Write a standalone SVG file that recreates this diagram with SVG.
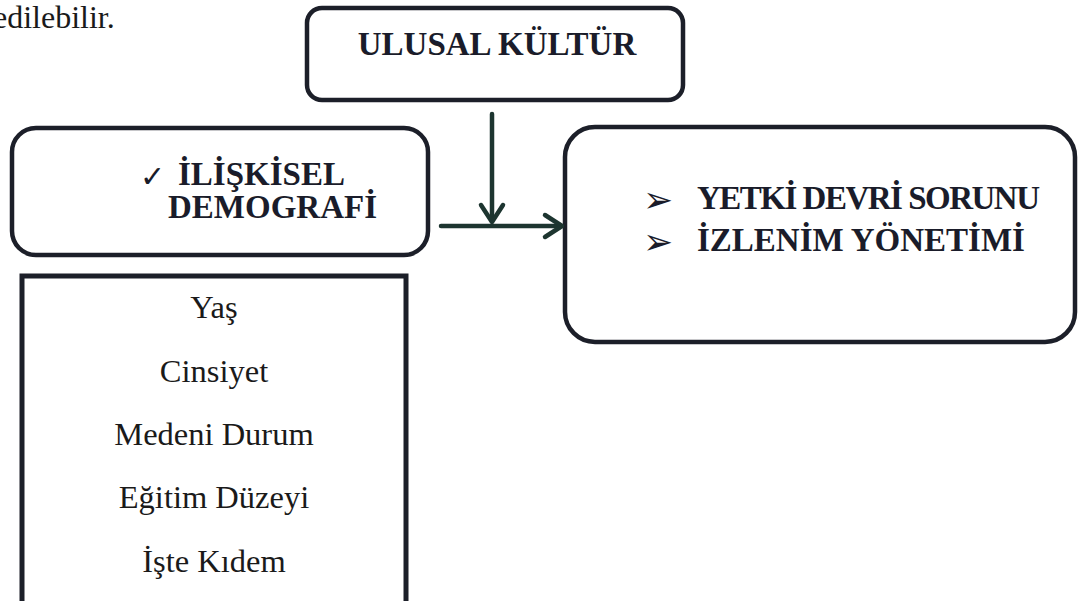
<svg xmlns="http://www.w3.org/2000/svg" width="1080" height="601" viewBox="0 0 1080 601">
<style>
.box{fill:#fff;stroke:#1c1f29;stroke-width:4.5}
.b{font-family:"Liberation Serif",serif;font-weight:bold;font-size:33px;fill:#1a1c2a}
.r{font-family:"Liberation Serif",serif;font-size:32.5px;fill:#1a1a1a;text-anchor:middle}
.sym{font-family:"DejaVu Sans",sans-serif;fill:#1a1c2a}
.con{fill:none;stroke:#1d3530;stroke-width:4.5;stroke-linecap:round;stroke-linejoin:round}
</style>
<rect width="1080" height="601" fill="#fff"/>
<text x="-7" y="28" font-family="Liberation Serif, serif" font-size="32" fill="#1a1a1a">edilebilir.</text>
<g id="ulusal">
<rect class="box" x="307" y="8" width="376" height="92" rx="15"/>
<text class="b" x="497" y="55" text-anchor="middle">ULUSAL KÜLTÜR</text>
</g>
<g id="iliskisel">
<rect class="box" x="12" y="128" width="416" height="127" rx="24"/>
<text class="sym" font-size="30" x="140" y="187">✓</text>
<text class="b" x="178" y="185">İLİŞKİSEL</text>
<text class="b" x="168" y="218">DEMOGRAFİ</text>
</g>
<g id="sonuc">
<rect class="box" x="565" y="127" width="510" height="215" rx="30"/>
<text class="sym" font-size="36" x="643" y="212">➢</text>
<text class="b" x="697" y="209" textLength="343">YETKİ DEVRİ SORUNU</text>
<text class="sym" font-size="36" x="643" y="254">➢</text>
<text class="b" x="697" y="251">İZLENİM YÖNETİMİ</text>
</g>
<g id="demografi-liste">
<rect x="22" y="276" width="384" height="340" fill="#fff" stroke="#1c1f29" stroke-width="5"/>
<text class="r" x="214" y="318">Yaş</text>
<text class="r" x="214" y="382">Cinsiyet</text>
<text class="r" x="214" y="445">Medeni Durum</text>
<text class="r" x="214" y="508">Eğitim Düzeyi</text>
<text class="r" x="214" y="572">İşte Kıdem</text>
</g>
<g id="connectors">
<line class="con" x1="492" y1="114" x2="492" y2="221"/>
<polyline class="con" points="481,205 492,222 503,205"/>
<line class="con" x1="441" y1="226" x2="561" y2="226"/>
<polyline class="con" points="545,215 562,226 545,237"/>
</g>
</svg>
